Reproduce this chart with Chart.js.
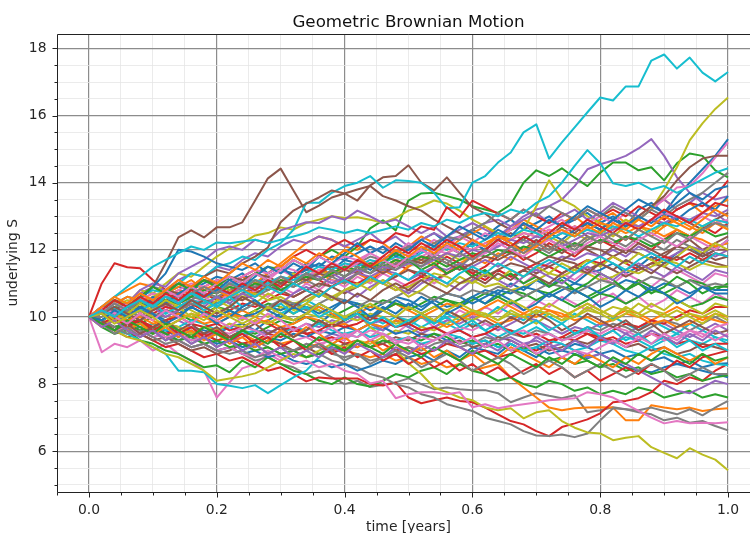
<!DOCTYPE html>
<html>
<head>
<meta charset="utf-8">
<title>Geometric Brownian Motion</title>
<script src="https://cdn.jsdelivr.net/npm/chart.js@4.4.1/dist/chart.umd.min.js"></script>
<style>
  html, body { margin: 0; padding: 0; background: #fff; overflow: hidden; width: 750px; height: 533px; }
  #wrap { width: 750px; height: 533px; overflow: hidden; position: relative; }
  #gbm { position: absolute; left: 0; top: 0; }
</style>
</head>
<body>
<div id="wrap"><canvas id="gbm" width="780" height="533"></canvas></div>
<script>
// time grid, 50 steps over one year
const times = [0,
  0.02, 0.04, 0.06, 0.08, 0.10, 0.12, 0.14, 0.16, 0.18, 0.20,
  0.22, 0.24, 0.26, 0.28, 0.30, 0.32, 0.34, 0.36, 0.38, 0.40,
  0.42, 0.44, 0.46, 0.48, 0.50, 0.52, 0.54, 0.56, 0.58, 0.60,
  0.62, 0.64, 0.66, 0.68, 0.70, 0.72, 0.74, 0.76, 0.78, 0.80,
  0.82, 0.84, 0.86, 0.88, 0.90, 0.92, 0.94, 0.96, 0.98, 1.00];

const xTickLabels = ['0.0', '0.2', '0.4', '0.6', '0.8', '1.0'];
const yTickLabels = ['6', '8', '10', '12', '14', '16', '18'];

// simulated paths of the underlying, S0 = 10
const p00 = [10,
  10.1, 10.3, 10.2, 10.5, 10.4, 10.7, 10.9, 10.8, 11.0, 11.2,
  11.1, 11.3, 11.0, 11.2, 11.4, 11.3, 11.6, 11.5, 11.8, 11.7,
  11.9, 12.1, 11.9, 12.2, 12.0, 12.3, 12.5, 12.2, 12.4, 12.6,
  12.4, 12.7, 12.9, 12.6, 12.8, 13.0, 12.7, 12.9, 13.1, 12.8,
  13.0, 12.7, 13.2, 13.4, 13.1, 13.6, 14.0, 14.4, 14.8, 15.3];
const p01 = [10,
  10.3, 10.6, 10.8, 11.0, 10.9, 10.7, 10.9, 11.1, 10.8, 11.0,
  10.9, 11.2, 11.0, 11.3, 11.6, 11.9, 12.2, 12.4, 12.3, 12.1,
  12.0, 12.3, 12.2, 11.9, 12.1, 12.4, 12.2, 12.0, 12.3, 12.5,
  12.7, 12.4, 12.6, 12.9, 12.7, 12.5, 12.8, 13.0, 12.7, 12.9,
  13.1, 12.8, 13.0, 13.3, 13.5, 13.2, 13.4, 13.1, 13.3, 13.5];
const p02 = [10,
  10.2, 10.0, 10.3, 10.5, 10.4, 10.7, 10.6, 10.9, 11.1, 10.9,
  11.2, 11.0, 11.3, 11.5, 11.4, 11.7, 11.5, 11.8, 12.0, 11.8,
  12.1, 12.64, 12.88, 12.58, 13.47, 13.68, 13.7, 13.6, 13.5, 13.3,
  13.2, 13.1, 13.35, 14.0, 14.37, 14.2, 14.43, 14.15, 13.9, 14.3,
  14.6, 14.6, 14.37, 14.46, 14.07, 14.58, 14.87, 14.8, 14.37, 14.16];
const p03 = [10,
  11.0, 11.6, 11.48, 11.45, 11.1, 10.8, 10.6, 10.9, 10.7, 10.5,
  10.8, 11.0, 10.7, 10.9, 11.2, 11.0, 11.3, 11.1, 10.9, 11.2,
  11.4, 11.1, 11.3, 11.6, 11.4, 11.2, 11.5, 11.8, 11.6, 11.3,
  11.5, 11.8, 12.0, 11.7, 11.9, 12.2, 12.0, 11.8, 12.1, 12.3,
  12.1, 12.4, 12.2, 12.0, 12.3, 12.6, 12.4, 12.7, 12.5, 12.8];
const p04 = [10,
  10.2, 10.5, 10.4, 10.7, 10.9, 10.8, 11.1, 11.3, 11.2, 11.5,
  11.4, 11.7, 11.9, 11.8, 12.1, 12.3, 12.2, 12.4, 12.3, 12.1,
  12.3, 12.5, 12.2, 12.4, 12.1, 12.3, 12.5, 12.3, 12.4, 12.6,
  12.8, 12.9, 12.7, 13.0, 13.2, 13.3, 13.5, 13.9, 14.4, 14.55,
  14.66, 14.8, 15.02, 15.3, 14.8, 14.16, 13.7, 13.4, 13.1, 12.8];
const p05 = [10,
  10.2, 10.4, 10.3, 10.6, 10.9, 11.6, 12.37, 12.58, 12.37, 12.67,
  12.67, 12.82, 13.47, 14.13, 14.42, 13.77, 13.12, 13.32, 13.56, 13.68,
  13.47, 13.92, 14.16, 14.2, 14.52, 14.0, 13.77, 14.16, 13.7, 13.27,
  13.08, 12.8, 12.6, 12.75, 12.5, 12.3, 12.5, 12.7, 12.4, 12.2,
  12.5, 12.3, 12.6, 12.9, 12.7, 13.0, 12.8, 12.6, 12.9, 13.1];
const p06 = [10,
  8.95, 9.2, 9.1, 9.3, 9.0, 9.2, 8.9, 8.7, 8.4, 7.6,
  8.05, 8.47, 8.6, 8.9, 8.7, 9.0, 9.2, 9.1, 9.4, 9.3,
  9.6, 9.4, 9.7, 9.5, 9.8, 10.0, 9.7, 9.9, 10.2, 10.0,
  10.3, 10.1, 10.4, 10.2, 10.5, 10.3, 10.6, 10.4, 10.2, 10.5,
  10.7, 10.4, 10.6, 10.3, 10.5, 10.8, 10.6, 10.4, 10.7, 10.5];
const p07 = [10,
  9.8, 9.6, 9.7, 9.5, 9.6, 9.4, 9.3, 9.5, 9.2, 9.0,
  9.1, 8.9, 8.7, 8.8, 8.6, 8.5, 8.3, 8.4, 8.2, 8.0,
  8.1, 7.91, 7.98, 8.05, 8.17, 8.0, 7.85, 7.9, 7.85, 7.82,
  7.82, 7.73, 7.46, 7.6, 7.73, 7.65, 7.58, 7.67, 7.16, 7.22,
  7.31, 7.25, 7.16, 7.1, 6.92, 7.0, 6.85, 6.9, 6.75, 6.62];
const p08 = [10,
  10.3, 10.5, 10.4, 10.8, 10.7, 11.0, 11.3, 11.2, 11.5, 11.8,
  12.04, 12.2, 12.43, 12.5, 12.67, 12.6, 12.8, 12.9, 13.0, 12.95,
  12.97, 12.9, 12.8, 12.95, 13.17, 13.3, 13.47, 13.38, 13.17, 12.9,
  12.7, 12.5, 12.3, 12.6, 13.3, 14.07, 13.5, 13.3, 13.0, 12.8,
  12.6, 12.9, 12.7, 12.5, 12.8, 12.6, 12.4, 12.7, 12.9, 12.6];
const p09 = [10,
  10.2, 10.4, 10.3, 10.6, 10.8, 10.7, 11.0, 11.3, 11.2, 11.5,
  11.6, 11.8, 11.7, 12.0, 12.2, 12.6, 13.4, 13.4, 13.7, 13.9,
  14.0, 14.2, 13.85, 14.07, 14.05, 14.0, 13.7, 13.24, 13.27, 14.0,
  14.2, 14.6, 14.9, 15.5, 15.74, 14.72, 15.2, 15.65, 16.1, 16.54,
  16.45, 16.87, 16.87, 17.64, 17.82, 17.4, 17.73, 17.28, 17.02, 17.3];
const p10 = [10,
  9.8, 9.9, 9.6, 9.7, 9.5, 9.6, 9.4, 9.7, 9.6, 9.5,
  9.7, 9.8, 9.6, 9.9, 10.1, 9.9, 10.0, 9.8, 10.1, 9.9,
  10.2, 10.0, 10.3, 10.1, 10.4, 10.2, 10.5, 10.3, 10.4, 10.6,
  10.8, 10.7, 11.0, 10.8, 11.1, 10.9, 11.2, 11.0, 11.3, 11.4,
  11.6, 11.3, 11.5, 11.8, 11.6, 11.9, 12.1, 11.8, 12.0, 12.3];
const p11 = [10,
  9.9, 10.1, 9.8, 9.9, 9.7, 9.8, 9.6, 9.7, 9.5, 9.6,
  9.4, 9.5, 9.3, 9.4, 9.2, 9.3, 9.1, 9.2, 9.0, 9.0,
  8.9, 8.8, 8.9, 8.7, 8.8, 8.6, 8.7, 8.5, 8.6, 8.4,
  8.5, 8.6, 8.2, 7.9, 7.6, 7.3, 7.22, 7.28, 7.3, 7.31,
  7.3, 6.92, 6.92, 7.37, 7.3, 7.25, 7.3, 7.2, 7.25, 7.28];
const p12 = [10,
  9.7, 9.5, 9.6, 9.3, 9.2, 9.0, 8.9, 8.7, 8.5, 8.56,
  8.35, 8.7, 8.5, 8.8, 8.6, 8.4, 8.3, 8.1, 8.0, 8.2,
  8.0, 7.93, 8.1, 8.3, 8.2, 8.4, 8.5, 8.3, 8.6, 8.4,
  8.3, 8.1, 8.2, 8.0, 7.9, 8.1, 8.0, 7.8, 7.9, 7.7,
  7.8, 7.7, 7.9, 7.8, 7.6, 7.7, 7.8, 7.6, 7.7, 7.6];
const p13 = [10,
  9.8, 9.6, 9.4, 9.5, 9.3, 9.1, 9.2, 9.0, 8.8, 8.9,
  8.7, 8.8, 8.6, 8.4, 8.5, 8.3, 8.08, 8.2, 8.17, 8.17,
  8.17, 8.0, 7.96, 8.05, 7.6, 7.43, 7.52, 7.6, 7.5, 7.46,
  7.3, 7.1, 6.9, 6.8, 6.6, 6.45, 6.72, 6.83, 6.95, 7.13,
  7.46, 7.5, 7.58, 7.76, 8.1, 8.0, 8.2, 8.1, 8.4, 8.6];
const p14 = [10,
  10.3, 10.5, 10.4, 10.8, 11.0, 10.9, 11.3, 11.5, 11.7, 12.0,
  12.1, 12.0, 12.3, 12.2, 12.58, 12.7, 12.82, 12.8, 13.0, 12.9,
  13.17, 13.0, 12.8, 12.9, 12.7, 12.5, 12.7, 12.4, 12.6, 12.8,
  12.6, 12.4, 12.7, 12.9, 13.1, 12.8, 13.0, 13.2, 12.9, 13.1,
  13.4, 13.2, 13.0, 13.3, 13.5, 13.2, 13.4, 13.7, 13.5, 13.6];
const p15 = [10,
  10.2, 10.1, 10.4, 10.6, 10.5, 10.8, 11.0, 10.9, 11.2, 11.4,
  11.3, 11.6, 11.8, 12.07, 12.82, 13.17, 13.38, 13.56, 13.77, 13.68,
  13.8, 13.9, 13.6, 13.47, 13.3, 13.17, 12.9, 12.7, 12.5, 12.3,
  12.1, 12.4, 12.2, 12.0, 12.3, 12.1, 11.9, 12.2, 12.0, 11.8,
  12.1, 11.9, 12.2, 12.0, 11.8, 12.1, 12.3, 12.0, 12.2, 12.4];
const p16 = [10,
  10.1, 10.3, 10.0, 10.2, 10.4, 10.3, 10.6, 10.5, 10.8, 10.7,
  10.9, 11.1, 10.9, 11.2, 11.4, 11.2, 11.5, 11.3, 11.6, 11.8,
  11.7, 11.9, 12.1, 11.9, 12.2, 12.0, 12.3, 12.1, 12.4, 12.2,
  12.5, 12.3, 12.6, 12.8, 12.5, 12.7, 12.9, 12.6, 12.8, 13.0,
  12.8, 13.1, 12.9, 13.2, 13.5, 13.86, 13.9, 14.28, 14.75, 15.2];
const p17 = [10,
  9.9, 10.1, 9.8, 9.9, 9.7, 9.5, 9.6, 9.4, 9.5, 9.3,
  9.4, 9.2, 9.3, 9.1, 8.9, 9.0, 8.8, 8.9, 8.7, 8.6,
  8.5, 8.3, 8.2, 8.0, 7.9, 7.7, 7.6, 7.4, 7.3, 7.2,
  7.0, 6.9, 6.8, 6.6, 6.47, 6.45, 6.5, 6.42, 6.53, 6.92,
  7.28, 7.25, 7.22, 7.3, 7.2, 7.1, 7.25, 7.07, 7.3, 7.5];
const p18 = [10,
  10.2, 9.9, 10.1, 10.3, 10.2, 10.5, 10.4, 10.7, 10.5, 10.8,
  10.6, 10.9, 11.1, 10.8, 11.0, 11.3, 11.1, 11.4, 11.2, 11.5,
  11.3, 11.6, 11.4, 11.7, 11.5, 11.8, 11.6, 11.9, 11.7, 11.8,
  12.0, 11.8, 12.1, 12.3, 12.1, 12.4, 12.2, 12.5, 12.3, 12.6,
  12.4, 12.7, 12.9, 13.2, 13.8, 14.46, 15.26, 15.77, 16.2, 16.54];
const p19 = [10,
  9.8, 9.6, 9.5, 9.3, 9.1, 8.9, 8.4, 8.4, 8.35, 8.0,
  7.95, 7.88, 7.97, 7.73, 7.97, 8.2, 8.4, 8.8, 9.15, 9.5,
  9.4, 9.7, 9.6, 9.9, 9.7, 10.0, 9.8, 10.1, 9.9, 10.2,
  10.0, 10.3, 10.1, 9.9, 10.2, 10.0, 9.8, 10.1, 9.9, 9.7,
  10.0, 9.8, 9.6, 9.9, 9.7, 9.5, 9.8, 9.6, 9.4, 9.2];
const p20 = [10,
  9.9, 9.7, 9.8, 9.6, 9.4, 9.5, 9.3, 9.1, 9.2, 9.0,
  9.1, 8.9, 9.0, 8.8, 8.9, 8.7, 8.6, 8.7, 8.5, 8.6,
  8.4, 8.53, 8.7, 8.6, 8.8, 8.9, 8.7, 9.0, 8.8, 9.1,
  9.0, 8.9, 9.2, 9.0, 8.8, 9.1, 9.0, 8.9, 8.77, 8.9,
  8.7, 8.5, 8.4, 8.35, 8.5, 8.6, 8.5, 8.4, 8.3, 8.2];
const p21 = [10,
  10.2, 10.5, 10.3, 10.6, 10.5, 10.3, 10.6, 10.4, 10.2, 10.5,
  10.7, 10.5, 10.8, 10.6, 10.9, 11.2, 11.0, 11.3, 11.1, 11.0,
  11.3, 11.1, 11.4, 11.2, 11.5, 11.7, 11.5, 11.3, 11.6, 11.8,
  11.6, 11.9, 11.7, 12.0, 12.2, 12.0, 12.3, 12.1, 12.4, 12.2,
  12.5, 12.3, 12.6, 12.4, 12.7, 12.9, 12.7, 12.5, 12.8, 12.6];
const p22 = [10,
  9.9, 10.1, 10.0, 9.8, 10.0, 10.2, 10.1, 9.9, 10.1, 10.3,
  10.2, 10.0, 10.2, 10.4, 10.3, 10.1, 10.3, 10.2, 10.0, 10.2,
  10.4, 10.3, 10.5, 10.4, 10.2, 10.4, 10.6, 10.5, 10.3, 10.5,
  10.7, 10.6, 10.4, 10.6, 10.8, 10.7, 10.5, 10.3, 10.5, 10.7,
  10.6, 10.4, 10.6, 10.8, 10.7, 10.5, 10.3, 10.4, 10.6, 10.5];
const p23 = [10,
  10.1, 10.3, 10.2, 10.4, 10.6, 10.5, 10.7, 10.6, 10.9, 11.1,
  11.0, 11.2, 11.4, 11.3, 11.5, 11.8, 12.0, 11.8, 12.1, 12.3,
  12.1, 12.3, 12.2, 12.5, 12.4, 12.7, 12.6, 13.27, 12.97, 13.47,
  13.27, 13.08, 12.9, 13.2, 13.0, 12.8, 13.1, 12.9, 13.2, 13.0,
  13.2, 13.0, 13.3, 13.1, 12.9, 13.2, 13.4, 13.3, 13.6, 14.07];
const p24 = [10,
  9.8, 9.9, 9.7, 9.8, 9.6, 9.7, 9.9, 9.7, 9.5, 9.6,
  9.8, 9.6, 9.4, 9.6, 9.5, 9.7, 9.5, 9.3, 9.5, 9.4,
  9.6, 9.8, 9.6, 9.9, 9.7, 9.5, 9.7, 9.9, 9.8, 10.0,
  9.8, 9.6, 9.8, 10.0, 9.9, 9.7, 9.5, 9.7, 9.6, 9.8,
  9.7, 9.5, 9.7, 9.9, 9.8, 9.6, 9.4, 9.6, 9.8, 9.6];
const p25 = [10,
  10.1, 9.9, 10.1, 10.3, 10.2, 10.4, 10.3, 10.5, 10.4, 10.6,
  10.5, 10.7, 10.9, 10.8, 11.0, 10.9, 11.1, 11.3, 11.2, 11.4,
  11.3, 11.5, 11.4, 11.6, 11.8, 11.7, 11.9, 12.1, 11.9, 12.2,
  12.0, 12.3, 12.5, 12.3, 12.6, 12.4, 12.7, 12.5, 12.8, 12.6,
  12.9, 12.7, 13.0, 13.3, 13.6, 14.07, 14.46, 14.72, 14.8, 14.8];
const p26 = [10,
  10.2, 10.0, 10.3, 10.1, 10.4, 10.2, 10.5, 10.3, 10.6, 10.4,
  10.7, 10.5, 10.8, 10.6, 10.9, 10.7, 11.0, 10.8, 11.1, 10.9,
  11.2, 11.0, 11.3, 11.1, 10.9, 11.2, 11.0, 11.3, 11.5, 11.3,
  11.1, 11.4, 11.2, 11.0, 11.3, 11.5, 11.3, 11.1, 11.4, 11.2,
  11.0, 11.3, 11.1, 10.9, 11.2, 11.4, 11.2, 11.0, 11.3, 11.2];
const p27 = [10,
  10.2, 10.1, 10.3, 10.2, 10.5, 10.4, 10.6, 10.5, 10.7, 10.6,
  10.8, 11.0, 10.9, 11.1, 11.0, 11.2, 11.4, 11.3, 11.5, 11.4,
  11.6, 11.8, 11.7, 11.9, 12.1, 12.0, 12.2, 12.4, 12.3, 12.6,
  12.8, 13.1, 12.9, 13.2, 13.0, 13.3, 13.1, 12.9, 13.2, 13.0,
  13.3, 13.1, 12.9, 13.2, 13.0, 13.3, 13.5, 13.7, 14.0, 14.3];
const p28 = [10,
  10.1, 9.9, 10.2, 10.0, 10.3, 10.1, 10.4, 10.2, 10.0, 10.3,
  10.1, 9.9, 10.2, 10.0, 10.3, 10.1, 10.4, 10.2, 10.0, 9.9,
  10.1, 9.7, 9.4, 9.0, 8.62, 8.3, 7.9, 7.76, 7.6, 7.52,
  7.3, 7.22, 7.28, 6.98, 7.16, 7.22, 6.9, 6.7, 6.56, 6.53,
  6.33, 6.4, 6.45, 6.12, 5.95, 5.79, 6.09, 5.9, 5.75, 5.43];
const p29 = [10,
  10.1, 10.3, 10.2, 10.4, 10.3, 10.1, 10.3, 10.5, 10.4, 10.6,
  10.4, 10.2, 10.4, 10.3, 10.1, 10.3, 10.5, 10.3, 10.1, 10.0,
  10.2, 10.0, 9.8, 10.0, 9.9, 9.7, 9.9, 9.8, 9.6, 9.8,
  9.6, 9.4, 9.6, 9.5, 9.7, 9.5, 9.3, 9.5, 9.6, 9.4,
  9.2, 9.4, 9.3, 9.1, 9.3, 9.5, 9.3, 9.2, 9.4, 9.3];
const p30 = [10,
  10.2, 10.4, 10.6, 10.5, 10.9, 11.3, 12.0, 11.95, 11.8, 11.6,
  11.5, 11.4, 11.6, 11.3, 11.5, 11.2, 11.4, 11.6, 11.4, 11.7,
  11.6, 11.4, 11.7, 11.9, 11.7, 12.0, 11.8, 12.1, 11.9, 12.2,
  12.0, 12.3, 12.1, 12.4, 12.2, 12.5, 12.3, 12.6, 12.8, 12.6,
  12.9, 12.7, 13.0, 12.8, 13.1, 12.9, 13.2, 13.4, 13.2, 13.6];
const p31 = [10,
  9.8, 10.0, 9.9, 10.1, 9.9, 9.7, 9.9, 10.1, 10.0, 9.8,
  10.0, 10.2, 10.0, 9.8, 10.0, 9.9, 10.1, 10.3, 10.1, 9.9,
  10.1, 10.3, 10.2, 10.4, 10.2, 10.0, 10.2, 10.4, 10.3, 10.1,
  10.3, 10.5, 10.3, 10.1, 10.3, 10.2, 10.0, 10.2, 10.4, 10.2,
  10.0, 10.2, 10.1, 9.9, 10.1, 10.3, 10.1, 9.9, 10.1, 10.0];
const p32 = [10,
  10.1, 9.9, 10.0, 9.8, 9.6, 9.8, 9.7, 9.5, 9.7, 9.6,
  9.4, 9.6, 9.5, 9.7, 9.9, 9.8, 10.0, 9.8, 9.7, 9.9,
  10.1, 10.0, 10.2, 10.4, 10.3, 10.1, 10.3, 10.5, 10.4, 10.6,
  10.4, 10.6, 10.8, 10.7, 10.5, 10.7, 10.9, 10.8, 10.6, 10.8,
  11.0, 10.8, 11.1, 10.9, 10.7, 10.9, 11.1, 11.0, 10.8, 11.0];
const p33 = [10,
  9.9, 9.7, 9.8, 9.6, 9.7, 9.5, 9.6, 9.4, 9.5, 9.3,
  9.4, 9.2, 9.3, 9.5, 9.4, 9.6, 9.5, 9.3, 9.4, 9.2,
  9.3, 9.1, 9.2, 9.0, 9.1, 8.9, 9.0, 9.2, 9.1, 8.9,
  9.0, 8.8, 8.9, 9.1, 9.0, 9.2, 9.4, 9.3, 9.5, 9.4,
  9.6, 9.8, 9.7, 9.9, 9.8, 10.0, 10.2, 10.1, 10.3, 10.3];
const p34 = [10,
  10.1, 10.2, 10.0, 10.2, 10.4, 10.3, 10.5, 10.7, 10.6, 10.8,
  10.7, 10.9, 10.8, 11.0, 10.8, 11.0, 11.2, 11.1, 11.3, 11.1,
  11.3, 11.2, 11.4, 11.3, 11.1, 11.3, 11.5, 11.4, 11.6, 11.5,
  11.7, 11.5, 11.8, 11.6, 11.4, 11.6, 11.8, 11.7, 11.9, 11.8,
  12.0, 11.8, 12.1, 11.9, 11.7, 11.9, 12.1, 12.0, 11.8, 12.0];
const p35 = [10,
  9.8, 9.6, 9.7, 9.5, 9.3, 9.4, 9.2, 9.0, 9.1, 8.9,
  9.0, 9.2, 9.1, 9.3, 9.2, 9.0, 9.1, 8.9, 9.0, 9.2,
  9.1, 9.3, 9.2, 9.4, 9.3, 9.5, 9.4, 9.2, 9.3, 9.1,
  9.2, 9.4, 9.3, 9.1, 9.2, 9.0, 9.1, 9.3, 9.2, 9.4,
  9.3, 9.1, 9.2, 9.0, 9.1, 8.9, 9.0, 9.2, 9.1, 9.0];
const p36 = [10,
  9.9, 9.7, 9.8, 9.6, 9.4, 9.5, 9.3, 9.1, 9.2, 9.0,
  9.1, 8.9, 8.8, 9.0, 8.8, 8.6, 8.7, 8.5, 8.6, 8.4,
  8.3, 8.02, 8.1, 7.58, 7.7, 7.76, 7.76, 7.7, 7.76, 7.31,
  7.4, 7.28, 7.35, 7.4, 7.45, 7.52, 7.55, 7.58, 7.76, 7.7,
  7.6, 7.4, 7.2, 7.0, 6.83, 6.9, 6.83, 6.85, 6.83, 6.86];
const p37 = [10,
  10.1, 9.9, 10.2, 10.0, 10.3, 10.5, 10.4, 10.6, 10.5, 10.3,
  10.5, 10.7, 10.6, 10.8, 11.0, 10.9, 11.1, 10.9, 11.2, 11.0,
  11.3, 11.5, 11.4, 11.6, 11.8, 11.6, 11.9, 11.7, 11.5, 11.8,
  12.0, 11.8, 12.1, 12.3, 12.1, 11.9, 12.2, 12.0, 12.3, 12.5,
  12.3, 12.1, 12.4, 12.2, 12.0, 12.3, 12.1, 11.9, 12.1, 12.2];
const p38 = [10,
  9.8, 9.6, 9.4, 9.3, 9.1, 8.9, 8.8, 8.6, 8.4, 8.1,
  8.17, 8.23, 8.32, 8.5, 8.7, 8.9, 8.8, 9.0, 9.2, 9.1,
  9.3, 9.2, 9.4, 9.6, 9.5, 9.7, 9.6, 9.8, 10.0, 9.9,
  10.1, 9.9, 10.2, 10.0, 9.8, 10.1, 9.9, 10.2, 10.4, 10.2,
  10.0, 10.3, 10.1, 10.4, 10.2, 10.5, 10.3, 10.1, 10.4, 10.3];
const p39 = [10,
  10.3, 10.6, 10.9, 11.2, 11.5, 11.7, 11.9, 12.1, 12.0, 12.22,
  12.2, 12.25, 12.3, 12.2, 12.3, 12.4, 12.5, 12.67, 12.6, 12.5,
  12.6, 12.5, 12.6, 12.7, 12.6, 12.8, 12.7, 12.9, 12.8, 13.0,
  13.1, 13.0, 13.2, 13.1, 13.4, 13.6, 14.0, 14.5, 14.97, 14.58,
  13.98, 13.9, 14.0, 13.8, 13.9, 13.7, 13.9, 14.1, 14.3, 14.43];
const p40 = [10,
  9.8, 9.9, 9.7, 9.5, 9.6, 9.4, 9.5, 9.3, 9.4, 9.2,
  9.3, 9.1, 9.2, 9.4, 9.3, 9.5, 9.4, 9.6, 9.5, 9.7,
  9.6, 9.8, 9.7, 9.5, 9.6, 9.4, 9.5, 9.3, 9.4, 9.2,
  9.3, 9.1, 9.2, 9.0, 9.1, 8.9, 9.0, 9.2, 9.1, 8.9,
  9.0, 8.8, 8.9, 8.7, 8.8, 8.6, 8.7, 8.5, 8.6, 8.62];
const p41 = [10,
  10.2, 10.4, 10.6, 10.5, 10.7, 10.6, 10.8, 10.7, 10.9, 10.8,
  10.6, 10.8, 10.7, 10.9, 11.1, 11.0, 11.2, 11.4, 11.3, 11.5,
  11.4, 11.6, 11.5, 11.7, 11.6, 11.8, 11.7, 11.9, 12.1, 12.0,
  12.2, 12.4, 12.3, 12.5, 12.4, 12.6, 12.5, 12.7, 12.6, 12.8,
  12.7, 12.5, 12.7, 12.6, 12.4, 12.6, 12.4, 12.3, 12.1, 12.2];
const p42 = [10,
  9.9, 9.7, 9.8, 9.6, 9.7, 9.5, 9.3, 9.4, 9.2, 9.3,
  9.1, 9.2, 9.0, 9.1, 8.9, 9.0, 8.8, 8.9, 9.1, 9.0,
  9.2, 9.1, 9.3, 9.2, 9.4, 9.3, 9.5, 9.4, 9.2, 9.3,
  9.1, 9.2, 9.0, 9.1, 8.9, 8.7, 8.8, 8.6, 8.7, 8.5,
  8.6, 8.4, 8.5, 8.3, 8.4, 8.2, 8.3, 8.1, 8.2, 8.26];
const p43 = [10,
  10.2, 10.0, 10.1, 9.9, 10.1, 10.3, 10.2, 10.4, 10.2, 10.0,
  10.2, 10.4, 10.3, 10.5, 10.7, 10.6, 10.8, 10.6, 10.9, 11.1,
  11.0, 11.2, 11.0, 10.8, 11.0, 11.2, 11.1, 11.3, 11.5, 11.3,
  11.1, 11.4, 11.2, 11.4, 11.6, 11.5, 11.3, 11.5, 11.7, 11.6,
  11.8, 11.6, 11.4, 11.6, 11.8, 11.7, 11.9, 11.7, 11.9, 11.8];
const p44 = [10,
  10.1, 9.9, 9.7, 9.8, 9.6, 9.7, 9.5, 9.6, 9.4, 9.5,
  9.3, 9.4, 9.6, 9.5, 9.7, 9.6, 9.8, 9.7, 9.9, 9.8,
  10.0, 9.8, 9.9, 9.7, 9.8, 9.6, 9.7, 9.5, 9.6, 9.4,
  9.5, 9.3, 9.4, 9.2, 9.3, 9.1, 9.2, 9.0, 8.8, 8.9,
  8.7, 8.6, 8.4, 8.2, 8.0, 7.8, 7.73, 7.9, 8.1, 8.0];
const p45 = [10,
  9.9, 10.1, 10.3, 10.2, 10.0, 10.2, 10.1, 10.3, 10.5, 10.4,
  10.6, 10.5, 10.7, 10.9, 10.8, 10.6, 10.8, 11.0, 10.9, 10.7,
  10.9, 11.1, 11.0, 11.2, 11.4, 11.3, 11.1, 11.3, 11.5, 11.4,
  11.2, 11.4, 11.6, 11.5, 11.3, 11.5, 11.7, 11.6, 11.4, 11.6,
  11.4, 11.2, 11.4, 11.6, 11.5, 11.3, 11.5, 11.7, 11.6, 11.5];
const p46 = [10,
  10.2, 10.4, 10.3, 10.5, 10.7, 10.6, 10.8, 11.0, 10.9, 11.1,
  11.0, 11.2, 11.4, 11.3, 11.5, 11.4, 11.2, 11.4, 11.6, 11.5,
  11.7, 11.6, 11.8, 11.7, 11.9, 11.8, 12.0, 11.9, 12.1, 12.0,
  12.2, 12.1, 12.3, 12.5, 12.4, 12.6, 12.5, 12.7, 12.6, 12.4,
  12.6, 12.8, 12.7, 12.9, 13.1, 13.0, 12.8, 13.0, 12.8, 12.9];
const p47 = [10,
  9.9, 9.7, 9.5, 9.6, 9.4, 9.2, 9.3, 9.1, 9.2, 9.0,
  8.9, 9.0, 8.8, 8.9, 9.1, 9.0, 9.2, 9.1, 8.9, 8.8,
  8.9, 8.7, 8.8, 8.9, 9.1, 9.0, 9.2, 9.3, 9.1, 9.2,
  9.4, 9.3, 9.5, 9.4, 9.6, 9.5, 9.3, 9.5, 9.7, 9.6,
  9.8, 9.7, 9.5, 9.7, 9.9, 9.8, 9.6, 9.8, 10.0, 9.8];
const p48 = [10,
  10.1, 10.3, 10.5, 10.4, 10.6, 10.8, 10.7, 10.9, 11.1, 11.0,
  10.8, 10.6, 10.7, 10.5, 10.6, 10.4, 10.5, 10.7, 10.6, 10.8,
  10.9, 11.1, 11.0, 10.8, 10.9, 11.1, 11.3, 11.2, 11.0, 11.1,
  10.9, 11.0, 10.8, 10.9, 11.1, 11.3, 11.2, 11.4, 11.3, 11.1,
  11.2, 11.4, 11.3, 11.5, 11.7, 11.6, 11.4, 11.6, 11.5, 11.5];
const p49 = [10,
  9.9, 10.1, 9.9, 9.7, 9.8, 9.6, 9.7, 9.9, 9.8, 9.6,
  9.7, 9.5, 9.6, 9.4, 9.5, 9.7, 9.6, 9.8, 9.6, 9.5,
  9.6, 9.4, 9.5, 9.3, 9.4, 9.2, 9.3, 9.5, 9.4, 9.2,
  9.3, 9.1, 9.2, 9.0, 9.1, 9.3, 9.2, 9.0, 9.1, 9.3,
  9.2, 9.0, 8.9, 9.1, 8.9, 8.8, 8.9, 8.7, 8.6, 8.56];
const p50 = [10,
  10.1, 9.9, 10.0, 10.2, 10.1, 9.9, 10.1, 10.3, 10.1, 10.0,
  10.2, 10.0, 10.1, 10.3, 10.2, 10.4, 10.3, 10.1, 10.3, 10.5,
  10.4, 10.2, 10.4, 10.6, 10.5, 10.3, 10.5, 10.7, 10.6, 10.4,
  10.6, 10.8, 10.7, 10.9, 10.8, 10.6, 10.8, 11.0, 10.9, 10.7,
  10.9, 11.1, 11.0, 10.8, 11.0, 10.9, 10.7, 10.9, 10.8, 10.8];
const p51 = [10,
  10.2, 10.1, 9.9, 10.0, 9.8, 9.9, 10.1, 10.0, 9.8, 9.9,
  10.1, 10.0, 9.8, 9.9, 9.7, 9.8, 10.0, 9.9, 9.7, 9.8,
  9.6, 9.8, 9.7, 9.9, 9.8, 10.0, 9.9, 9.7, 9.9, 10.1,
  10.0, 9.8, 9.9, 10.1, 10.0, 10.2, 10.1, 9.9, 10.0, 9.8,
  9.9, 10.1, 10.0, 9.8, 9.9, 9.7, 9.8, 10.0, 9.9, 9.8];
const p52 = [10,
  10.1, 10.3, 10.2, 10.4, 10.3, 10.5, 10.4, 10.6, 10.8, 10.7,
  10.9, 10.8, 11.0, 10.9, 11.1, 11.0, 11.2, 11.1, 11.3, 11.5,
  11.4, 11.6, 11.5, 11.7, 11.6, 11.8, 11.7, 11.5, 11.7, 11.9,
  11.8, 12.0, 11.9, 12.1, 12.0, 11.8, 12.0, 12.2, 12.1, 12.3,
  12.2, 12.4, 12.3, 12.1, 12.3, 12.5, 12.4, 12.6, 12.4, 12.5];
const p53 = [10,
  10.1, 9.9, 9.8, 9.9, 9.7, 9.9, 10.0, 9.8, 9.7, 9.8,
  9.6, 9.7, 9.9, 9.8, 9.6, 9.7, 9.5, 9.6, 9.8, 9.7,
  9.8, 10.0, 9.9, 9.7, 9.8, 9.6, 9.7, 9.5, 9.6, 9.4,
  9.5, 9.7, 9.6, 9.4, 9.5, 9.3, 9.4, 9.6, 9.5, 9.3,
  9.4, 9.2, 9.3, 9.5, 9.4, 9.2, 9.3, 9.1, 9.2, 9.2];
const p54 = [10,
  10.2, 10.1, 10.3, 10.5, 10.4, 10.6, 10.5, 10.7, 10.6, 10.8,
  10.7, 10.9, 10.8, 11.0, 11.2, 11.1, 11.3, 11.2, 11.0, 11.2,
  11.4, 11.3, 11.5, 11.4, 11.6, 11.5, 11.7, 11.9, 11.8, 12.0,
  11.9, 12.1, 12.3, 12.2, 12.4, 12.3, 12.1, 12.3, 12.5, 12.4,
  12.6, 12.8, 12.7, 12.9, 12.8, 13.0, 12.9, 13.1, 13.0, 13.2];
const p55 = [10,
  10.3, 10.2, 10.4, 10.3, 10.5, 10.8, 10.7, 10.9, 11.1, 11.0,
  11.2, 11.1, 11.3, 11.2, 11.0, 11.2, 11.1, 11.3, 11.5, 11.4,
  11.6, 11.5, 11.3, 11.5, 11.7, 11.6, 11.8, 11.6, 11.4, 11.6,
  11.8, 11.7, 11.9, 11.8, 11.6, 11.8, 11.7, 11.9, 12.1, 12.0,
  11.8, 12.0, 11.9, 11.7, 11.9, 12.1, 12.0, 11.8, 12.0, 12.0];
const p56 = [10,
  9.8, 9.6, 9.7, 9.5, 9.6, 9.4, 9.5, 9.3, 9.4, 9.6,
  9.5, 9.7, 9.6, 9.4, 9.5, 9.3, 9.4, 9.2, 9.3, 9.5,
  9.4, 9.6, 9.5, 9.3, 9.2, 9.4, 9.3, 9.5, 9.7, 9.6,
  9.8, 9.7, 9.5, 9.6, 9.4, 9.5, 9.3, 9.4, 9.6, 9.5,
  9.7, 9.6, 9.4, 9.5, 9.3, 9.4, 9.6, 9.5, 9.3, 9.5];
const p57 = [10,
  10.0, 10.2, 10.1, 9.9, 10.1, 10.0, 10.2, 10.4, 10.3, 10.1,
  10.3, 10.2, 10.4, 10.3, 10.5, 10.4, 10.2, 10.4, 10.6, 10.5,
  10.3, 10.5, 10.4, 10.6, 10.8, 10.7, 10.5, 10.7, 10.6, 10.8,
  10.7, 10.9, 10.8, 10.6, 10.8, 11.0, 10.9, 10.7, 10.9, 11.1,
  11.0, 10.8, 11.0, 11.2, 11.1, 10.9, 11.1, 10.9, 11.0, 10.9];
const p58 = [10,
  9.8, 9.9, 9.7, 9.8, 9.6, 9.8, 9.7, 9.5, 9.7, 9.6,
  9.8, 9.7, 9.9, 9.8, 10.0, 9.9, 10.1, 10.0, 9.8, 10.0,
  9.9, 10.1, 10.0, 9.8, 9.9, 10.1, 10.3, 10.2, 10.0, 10.2,
  10.1, 9.9, 10.1, 10.0, 10.2, 10.1, 9.9, 10.0, 10.2, 10.1,
  10.3, 10.2, 10.0, 10.2, 10.1, 9.9, 10.1, 10.0, 10.2, 10.0];
const p59 = [10,
  10.2, 10.1, 10.3, 10.2, 10.4, 10.6, 10.5, 10.7, 10.6, 10.8,
  11.0, 10.9, 11.1, 11.0, 11.2, 11.1, 11.3, 11.5, 11.4, 11.6,
  11.5, 11.7, 11.6, 11.8, 11.7, 11.9, 12.1, 12.0, 12.2, 12.1,
  12.3, 12.5, 12.4, 12.6, 12.5, 12.3, 12.5, 12.4, 12.6, 12.5,
  12.7, 12.6, 12.4, 12.6, 12.8, 12.7, 12.9, 12.7, 12.9, 12.8];
const p60 = [10,
  10.3, 10.1, 10.4, 10.2, 10.6, 10.4, 10.7, 10.9, 10.6, 10.8,
  11.1, 10.9, 11.2, 11.5, 11.3, 11.6, 11.4, 11.8, 11.6, 11.9,
  12.2, 11.9, 12.1, 11.8, 12.0, 12.3, 12.1, 12.4, 12.7, 12.5,
  12.3, 12.6, 12.4, 12.8, 12.6, 12.9, 12.7, 13.0, 13.3, 13.1,
  12.9, 13.2, 13.5, 13.3, 13.1, 13.4, 13.7, 13.5, 13.8, 13.9];
const p61 = [10,
  9.7, 9.9, 9.6, 9.8, 9.5, 9.7, 9.4, 9.6, 9.3, 9.5,
  9.2, 9.4, 9.1, 9.3, 9.6, 9.4, 9.7, 9.5, 9.2, 9.4,
  9.1, 9.3, 9.0, 9.2, 8.9, 9.1, 8.8, 9.0, 8.7, 8.9,
  8.6, 8.8, 9.1, 8.9, 8.7, 8.5, 8.8, 8.6, 8.9, 8.7,
  8.5, 8.8, 8.6, 8.9, 9.1, 8.9, 8.7, 8.9, 8.6, 8.8];
const p62 = [10,
  10.2, 10.5, 10.3, 10.6, 10.9, 10.7, 11.0, 10.8, 11.1, 10.9,
  11.2, 11.0, 11.3, 11.1, 10.8, 11.0, 11.3, 11.1, 11.4, 11.2,
  11.5, 11.3, 11.6, 11.9, 11.7, 11.4, 11.6, 11.3, 11.5, 11.2,
  11.4, 11.1, 11.3, 11.0, 11.2, 10.9, 11.1, 10.8, 11.0, 11.3,
  11.1, 10.8, 11.0, 10.7, 10.9, 11.2, 11.0, 10.7, 10.9, 10.9];
const p63 = [10,
  9.8, 10.0, 9.7, 9.9, 9.6, 9.8, 9.5, 9.7, 9.4, 9.6,
  9.3, 9.5, 9.2, 9.4, 9.1, 9.3, 9.0, 9.2, 8.9, 9.1,
  8.8, 9.0, 8.7, 8.9, 8.6, 8.8, 8.5, 8.7, 8.4, 8.6,
  8.3, 8.5, 8.2, 8.4, 8.6, 8.3, 8.5, 8.2, 8.4, 8.1,
  8.3, 8.5, 8.3, 8.6, 8.4, 8.7, 8.5, 8.8, 8.9, 9.0];
const p64 = [10,
  10.1, 10.4, 10.2, 10.5, 10.3, 10.0, 10.2, 10.5, 10.3, 10.6,
  10.4, 10.7, 10.5, 10.2, 10.4, 10.7, 10.9, 10.7, 10.5, 10.8,
  10.6, 10.9, 11.1, 10.9, 10.7, 11.0, 11.2, 11.0, 10.8, 11.1,
  11.3, 11.1, 10.9, 11.2, 11.4, 11.2, 11.0, 11.3, 11.5, 11.3,
  11.1, 11.4, 11.6, 11.4, 11.2, 11.5, 11.3, 11.1, 11.4, 11.3];
const p65 = [10,
  9.9, 9.6, 9.8, 9.5, 9.7, 9.9, 9.6, 9.8, 9.5, 9.7,
  9.4, 9.6, 9.8, 9.5, 9.7, 9.4, 9.6, 9.9, 9.7, 9.9,
  10.1, 9.9, 10.2, 10.0, 9.8, 10.1, 9.9, 10.2, 10.0, 9.7,
  9.9, 9.7, 10.0, 9.8, 10.1, 9.9, 9.6, 9.8, 10.1, 9.9,
  9.7, 9.9, 9.6, 9.8, 9.5, 9.7, 9.9, 9.7, 9.5, 9.6];
const p66 = [10,
  10.3, 10.1, 10.4, 10.7, 10.5, 10.8, 10.6, 10.9, 10.7, 11.0,
  11.2, 11.0, 11.3, 11.1, 11.4, 11.7, 11.5, 11.8, 11.6, 11.4,
  11.6, 11.9, 11.7, 11.5, 11.8, 12.0, 11.8, 12.1, 11.9, 11.7,
  11.9, 12.2, 12.0, 11.8, 12.1, 12.3, 12.1, 11.9, 12.2, 12.4,
  12.2, 12.0, 12.3, 12.5, 12.3, 12.1, 12.4, 12.2, 12.0, 12.3];
const p67 = [10,
  9.8, 9.5, 9.7, 9.4, 9.6, 9.3, 9.5, 9.2, 9.4, 9.1,
  9.3, 9.0, 9.2, 8.9, 9.1, 8.8, 9.0, 9.2, 9.0, 8.7,
  8.9, 8.6, 8.8, 9.0, 8.8, 8.5, 8.7, 8.9, 8.7, 8.4,
  8.6, 8.8, 8.6, 8.3, 8.5, 8.7, 8.5, 8.2, 8.4, 8.6,
  8.4, 8.2, 8.4, 8.6, 8.4, 8.1, 8.3, 8.5, 8.3, 8.3];
const p68 = [10,
  10.2, 9.9, 10.1, 10.4, 10.2, 10.5, 10.3, 10.0, 10.2, 10.5,
  10.3, 10.6, 10.4, 10.7, 10.5, 10.2, 10.4, 10.7, 10.5, 10.8,
  11.0, 10.8, 11.1, 10.9, 10.6, 10.8, 11.1, 10.9, 11.2, 11.0,
  11.3, 11.1, 11.4, 11.2, 11.5, 11.3, 11.6, 11.4, 11.7, 11.5,
  11.8, 11.6, 11.9, 11.7, 11.5, 11.8, 12.1, 11.9, 12.2, 12.0];
const p69 = [10,
  10.1, 10.3, 10.0, 10.2, 10.4, 10.1, 10.3, 10.5, 10.2, 10.4,
  10.6, 10.3, 10.5, 10.2, 10.4, 10.1, 10.3, 10.0, 10.2, 9.9,
  10.1, 9.8, 10.0, 9.7, 9.9, 10.1, 9.8, 10.0, 9.7, 9.9,
  9.6, 9.8, 9.5, 9.7, 9.9, 9.6, 9.8, 9.5, 9.7, 9.4,
  9.6, 9.3, 9.5, 9.2, 9.4, 9.1, 9.3, 9.0, 9.2, 9.0];
const p70 = [10,
  9.9, 10.2, 10.0, 10.3, 10.1, 9.8, 10.0, 10.3, 10.1, 9.8,
  10.0, 10.3, 10.5, 10.2, 10.0, 10.3, 10.1, 10.4, 10.2, 10.5,
  10.3, 10.0, 10.2, 10.5, 10.3, 10.6, 10.4, 10.1, 10.3, 10.6,
  10.4, 10.7, 10.5, 10.2, 10.4, 10.7, 10.5, 10.8, 10.6, 10.3,
  10.5, 10.8, 10.6, 10.9, 10.7, 10.4, 10.6, 10.9, 10.7, 10.7];
const p71 = [10,
  10.3, 10.6, 10.4, 10.7, 10.5, 10.8, 11.1, 10.9, 11.2, 11.0,
  11.3, 11.6, 11.4, 11.7, 11.5, 11.8, 11.6, 11.9, 11.7, 12.0,
  11.8, 11.5, 11.7, 12.0, 11.8, 12.1, 11.9, 12.2, 12.0, 12.3,
  12.1, 12.4, 12.2, 11.9, 12.1, 12.4, 12.6, 12.4, 12.7, 12.5,
  12.8, 12.6, 12.9, 12.7, 13.0, 12.8, 12.6, 12.9, 13.2, 13.0];
const p72 = [10,
  9.8, 9.6, 9.9, 9.7, 9.5, 9.8, 9.6, 9.4, 9.7, 9.5,
  9.3, 9.6, 9.4, 9.2, 9.5, 9.3, 9.1, 9.4, 9.2, 9.0,
  9.3, 9.1, 8.9, 9.2, 9.0, 8.8, 9.1, 8.9, 8.7, 9.0,
  8.8, 8.6, 8.9, 8.7, 8.5, 8.8, 8.6, 8.9, 8.7, 8.5,
  8.8, 8.6, 8.9, 8.7, 9.0, 8.8, 8.6, 8.9, 8.7, 8.8];
const p73 = [10,
  10.2, 10.5, 10.3, 10.6, 10.4, 10.7, 10.5, 10.8, 10.6, 10.9,
  10.7, 11.0, 10.8, 11.1, 10.9, 11.2, 11.5, 11.3, 11.6, 11.4,
  11.7, 11.5, 11.8, 12.1, 11.9, 12.2, 12.0, 12.3, 12.1, 11.8,
  12.0, 12.3, 12.1, 12.4, 12.2, 12.5, 12.8, 12.6, 12.9, 12.7,
  12.5, 12.8, 12.6, 12.9, 13.2, 13.0, 12.8, 13.1, 13.4, 13.3];
const p74 = [10,
  9.7, 9.9, 9.6, 9.4, 9.6, 9.3, 9.5, 9.2, 9.4, 9.1,
  9.3, 9.0, 9.2, 8.9, 9.1, 8.8, 9.0, 8.8, 9.1, 8.9,
  9.2, 9.0, 8.8, 9.1, 8.9, 9.2, 9.0, 9.3, 9.1, 8.9,
  9.2, 9.0, 9.3, 9.1, 9.4, 9.2, 9.0, 9.3, 9.1, 9.4,
  9.2, 9.5, 9.3, 9.6, 9.4, 9.2, 9.5, 9.3, 9.6, 9.4];
const p75 = [10,
  10.1, 10.3, 10.1, 9.9, 10.2, 10.4, 10.2, 10.5, 10.3, 10.1,
  10.3, 10.6, 10.4, 10.2, 10.5, 10.3, 10.6, 10.8, 10.6, 10.4,
  10.7, 10.5, 10.8, 11.0, 10.8, 11.1, 10.9, 10.7, 11.0, 11.2,
  11.0, 11.3, 11.1, 11.4, 11.2, 11.0, 11.3, 11.5, 11.3, 11.6,
  11.4, 11.7, 11.5, 11.3, 11.6, 11.8, 11.6, 11.9, 11.7, 11.8];
const p76 = [10,
  10.2, 10.0, 9.8, 10.1, 9.9, 10.2, 10.0, 9.8, 10.1, 9.9,
  9.7, 10.0, 9.8, 10.1, 9.9, 9.6, 9.8, 9.5, 9.7, 9.4,
  9.6, 9.3, 9.5, 9.2, 9.4, 9.1, 9.3, 9.5, 9.2, 9.4,
  9.1, 9.3, 9.0, 9.2, 8.9, 9.1, 8.8, 9.0, 8.9, 9.1,
  9.3, 9.1, 9.4, 9.2, 9.5, 9.3, 9.6, 9.4, 9.7, 9.8];
const p77 = [10,
  10.1, 10.4, 10.2, 10.5, 10.3, 10.6, 10.4, 10.7, 10.9, 10.7,
  11.0, 10.8, 11.1, 10.9, 11.2, 11.0, 11.3, 11.1, 11.4, 11.2,
  11.5, 11.3, 11.6, 11.4, 11.7, 11.5, 11.8, 11.6, 11.9, 11.7,
  12.0, 11.8, 12.1, 11.9, 12.2, 12.0, 12.3, 12.1, 12.4, 12.2,
  12.5, 12.3, 12.6, 12.4, 12.2, 12.5, 12.3, 12.6, 12.8, 12.7];
const p78 = [10,
  10.1, 9.8, 10.0, 10.2, 10.0, 9.7, 9.9, 10.1, 9.9, 10.2,
  10.0, 9.8, 10.0, 10.3, 10.1, 9.9, 10.1, 10.4, 10.2, 10.0,
  10.2, 10.4, 10.2, 10.0, 10.3, 10.1, 9.9, 10.2, 10.4, 10.2,
  10.0, 10.2, 10.5, 10.3, 10.1, 10.4, 10.2, 10.0, 10.3, 10.1,
  9.9, 10.1, 10.4, 10.2, 10.0, 10.2, 10.0, 9.8, 10.1, 9.9];
const p79 = [10,
  10.2, 10.0, 10.3, 10.5, 10.3, 10.6, 10.4, 10.7, 10.5, 10.3,
  10.6, 10.8, 10.6, 10.9, 10.7, 11.0, 10.8, 10.6, 10.9, 11.1,
  10.9, 11.2, 11.0, 11.3, 11.1, 11.4, 11.2, 11.0, 11.3, 11.5,
  11.3, 11.6, 11.4, 11.2, 11.5, 11.7, 11.5, 11.3, 11.6, 11.8,
  11.6, 11.4, 11.7, 11.9, 11.7, 11.5, 11.8, 11.6, 11.9, 11.8];

const paths = [p00, p01, p02, p03, p04, p05, p06, p07, p08, p09,
  p10, p11, p12, p13, p14, p15, p16, p17, p18, p19,
  p20, p21, p22, p23, p24, p25, p26, p27, p28, p29,
  p30, p31, p32, p33, p34, p35, p36, p37, p38, p39,
  p40, p41, p42, p43, p44, p45, p46, p47, p48, p49,
  p50, p51, p52, p53, p54, p55, p56, p57, p58, p59,
  p60, p61, p62, p63, p64, p65, p66, p67, p68, p69,
  p70, p71, p72, p73, p74, p75, p76, p77, p78, p79];

// matplotlib's default colour cycle
const tab10 = ['#1f77b4', '#ff7f0e', '#2ca02c', '#d62728', '#9467bd',
  '#8c564b', '#e377c2', '#7f7f7f', '#bcbd22', '#17becf'];

const majorGrid = '#8c8c8c';
const minorGrid = '#e6e6e6';

function near(v, step) {
  return Math.abs(v / step - Math.round(v / step)) < 1e-6;
}

// left/top/bottom spines plus major and minor tick marks
const framePlugin = {
  id: 'frame',
  afterDraw(chart) {
    const { ctx, chartArea: a, scales: { x, y } } = chart;
    const l = Math.round(a.left) + 0.5, t = Math.round(a.top) + 0.5, b = Math.round(a.bottom) + 0.5;
    ctx.save();
    ctx.strokeStyle = '#222';
    ctx.lineWidth = 1;
    ctx.beginPath();
    ctx.moveTo(a.right, t);
    ctx.lineTo(l, t);
    ctx.lineTo(l, b);
    ctx.lineTo(a.right, b);
    x.ticks.forEach(tk => {
      const px = Math.round(x.getPixelForValue(tk.value)) + 0.5;
      const len = near(tk.value, 0.2) ? 5 : 3;
      ctx.moveTo(px, b);
      ctx.lineTo(px, b + len);
    });
    y.ticks.forEach(tk => {
      const py = Math.round(y.getPixelForValue(tk.value)) + 0.5;
      const len = near(tk.value, 2) ? 5 : 3;
      ctx.moveTo(l, py);
      ctx.lineTo(l - len, py);
    });
    ctx.stroke();
    ctx.restore();
  }
};

Chart.defaults.font.family = "'DejaVu Sans', sans-serif";
Chart.defaults.color = '#262626';

new Chart(document.getElementById('gbm'), {
  type: 'line',
  data: {
    datasets: paths.map((p, k) => ({
      data: p.map((v, i) => ({ x: times[i], y: v })),
      borderColor: tab10[k % 10],
      borderWidth: 2,
      borderJoinStyle: 'round',
      pointRadius: 0,
      tension: 0,
      order: -k
    }))
  },
  options: {
    responsive: false,
    animation: false,
    events: [],
    layout: { padding: { right: 20 } },
    plugins: {
      legend: { display: false },
      tooltip: { enabled: false },
      title: {
        display: true,
        text: 'Geometric Brownian Motion',
        fullSize: false,
        color: '#111',
        font: { size: 16.7, weight: 'normal' },
        padding: { top: 12.2, bottom: 1.8 }
      }
    },
    scales: {
      x: {
        type: 'linear',
        min: -0.05,
        max: 1.05,
        afterFit: s => { s.height = 41.5; },
        ticks: {
          stepSize: 0.05,
          autoSkip: false,
          maxRotation: 0,
          padding: 10.5,
          font: { size: 13.9 },
          callback: v => near(v, 0.2) ? xTickLabels[Math.round(v / 0.2)] : ''
        },
        grid: {
          drawTicks: false,
          color: c => c.tick && near(c.tick.value, 0.2) ? majorGrid : minorGrid,
          lineWidth: c => c.tick && near(c.tick.value, 0.2) ? 1.2 : 0.8
        },
        border: { display: false },
        title: { display: true, text: 'time [years]', font: { size: 13.9 }, padding: { top: 0, bottom: -2.4 } }
      },
      y: {
        min: 4.8,
        max: 18.43,
        afterFit: s => { s.width = 57; },
        ticks: {
          stepSize: 0.5,
          includeBounds: false,
          autoSkip: false,
          padding: 10.5,
          font: { size: 13.9 },
          callback: v => near(v, 2) ? yTickLabels[Math.round(v / 2) - 3] : ''
        },
        grid: {
          drawTicks: false,
          color: c => c.tick && near(c.tick.value, 2) ? majorGrid : minorGrid,
          lineWidth: c => c.tick && near(c.tick.value, 2) ? 1.2 : 0.8
        },
        border: { display: false },
        title: { display: true, text: 'underlying S', font: { size: 13.9 }, padding: { top: 4.7, bottom: 0 } }
      }
    }
  },
  plugins: [framePlugin]
});
</script>
</body>
</html>
